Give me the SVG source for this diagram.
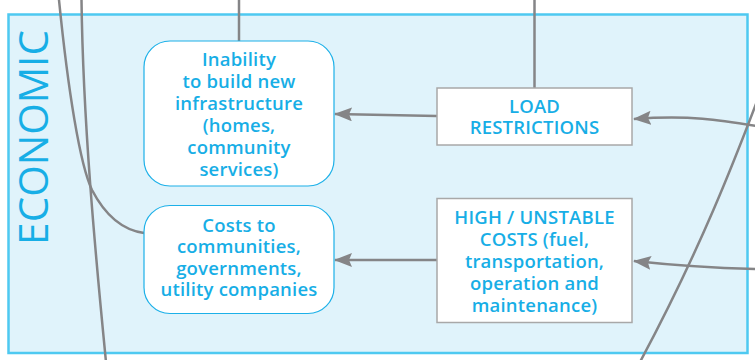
<svg xmlns="http://www.w3.org/2000/svg" width="755" height="360" viewBox="0 0 755 360">
<style>
.conn{fill:none;stroke:#858587;stroke-width:2.5}
.lbl{font-family:"Open Sans","Liberation Sans",sans-serif;font-weight:600;font-size:18.5px;letter-spacing:0.2px;fill:#17aee6;text-anchor:middle}
.rnode{fill:#fff;stroke:#1cb0e8;stroke-width:1.2}
.bnode{fill:#fff;stroke:#a8a8a8;stroke-width:1.5}
</style>
<defs>
<marker id="ah" markerUnits="userSpaceOnUse" markerWidth="18" markerHeight="14" viewBox="0 0 18 14" refX="17" refY="7" orient="auto">
<path d="M0,0 L18,7 L0,14 L3,7 z" fill="#858587"/>
</marker>
</defs>
<g id="panel">
<rect x="8.5" y="14.5" width="739" height="338.5" fill="#e0f3fb" stroke="#4ec9f1" stroke-width="2.5"/>
<text transform="translate(47.5,137.5) rotate(-90)" font-family="'Open Sans','Liberation Sans',sans-serif" font-size="40.5" font-weight="500" fill="#17aee6" text-anchor="middle">ECONOMIC</text>
</g>
<g id="connectors">
<path class="conn" d="M59,0 C68,90 80,165 92,190 C105,215 122,230 144,233"/>
<path class="conn" d="M81.5,0 C83,120 95,250 106,362"/>
<path class="conn" d="M239,0 L239,41"/>
<path class="conn" d="M534.5,0 L534.5,88"/>
<path class="conn" d="M762,88 C735,160 700,250 640,362"/>
<path class="conn" d="M437,116 L335,114" marker-end="url(#ah)"/>
<path class="conn" d="M437,260 L335,260" marker-end="url(#ah)"/>
<path class="conn" d="M756,126 C720,120 690,115 634,119" marker-end="url(#ah)"/>
<path class="conn" d="M756,269 C715,268 680,266 634,261" marker-end="url(#ah)"/>
</g>
<g id="node-inability">
<rect class="rnode" x="144" y="41" width="190" height="145" rx="26"/>
<text class="lbl"><tspan x="239" y="66">Inability</tspan><tspan x="239" y="88">to build new</tspan><tspan x="239" y="110">infrastructure</tspan><tspan x="239" y="132">(homes,</tspan><tspan x="239" y="154">community</tspan><tspan x="239" y="176">services)</tspan></text>
</g>
<g id="node-costs">
<rect class="rnode" x="144" y="205.5" width="190" height="108" rx="26"/>
<text class="lbl"><tspan x="239" y="231.5">Costs to</tspan><tspan x="239" y="253">communities,</tspan><tspan x="239" y="274.5">governments,</tspan><tspan x="239" y="296">utility companies</tspan></text>
</g>
<g id="node-load">
<rect class="bnode" x="437" y="88" width="195" height="57"/>
<text class="lbl"><tspan x="534.5" y="113">LOAD</tspan><tspan x="534.5" y="134">RESTRICTIONS</tspan></text>
</g>
<g id="node-high">
<rect class="bnode" x="437" y="198.5" width="195" height="124"/>
<text class="lbl"><tspan x="534.5" y="224">HIGH / UNSTABLE</tspan><tspan x="534.5" y="246">COSTS (fuel,</tspan><tspan x="534.5" y="268">transportation,</tspan><tspan x="534.5" y="290">operation and</tspan><tspan x="534.5" y="312">maintenance)</tspan></text>
</g>
</svg>
